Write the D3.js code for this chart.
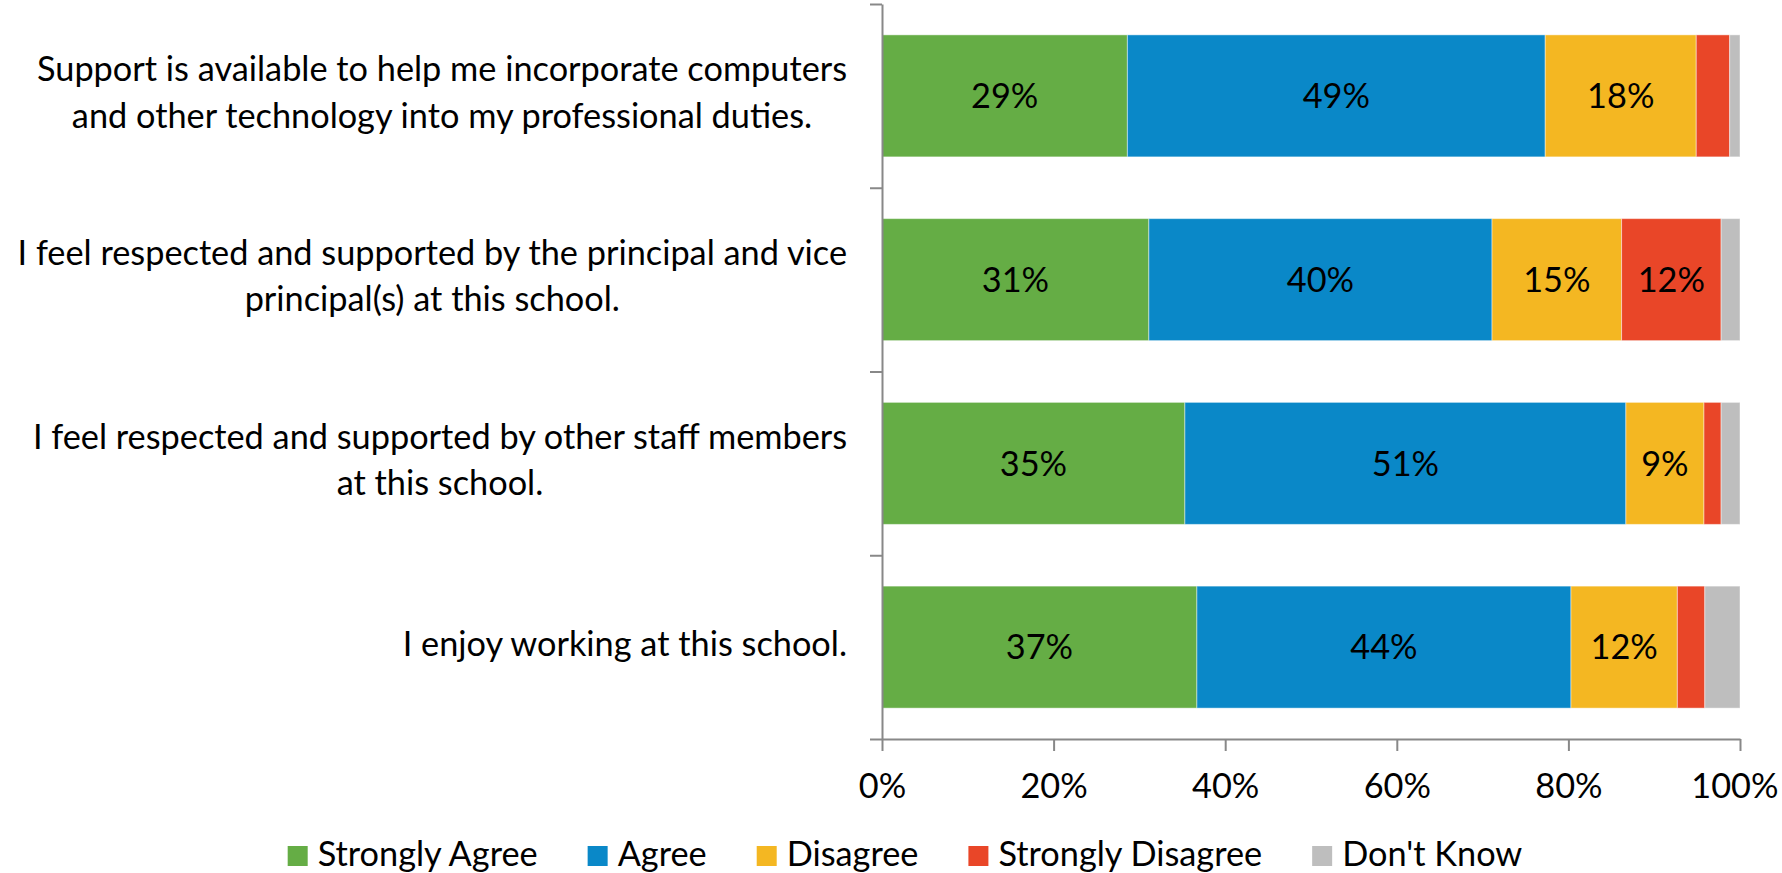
<!DOCTYPE html>
<html>
<head>
<meta charset="utf-8">
<script src="https://cdn.jsdelivr.net/npm/d3@7"></script>
<style>
  html, body { margin: 0; padding: 0; background: #ffffff; }
  svg { display: block; }
  text { font-family: Lato, "Open Sans", sans-serif; fill: #000; }
</style>
</head>
<body>
<svg id="chart" width="1782" height="873"></svg>
<script>
// Survey statements, one per bar (top to bottom), split into display lines
const categories = [
  ["Support is available to help me incorporate computers", "and other technology into my professional duties."],
  ["I feel respected and supported by the principal and vice", "principal(s) at this school."],
  ["I feel respected and supported by other staff members", "at this school."],
  ["I enjoy working at this school."]
];

const seriesNames = ["Strongly Agree", "Agree", "Disagree", "Strongly Disagree", "Don't Know"];
const seriesColors = ["#65AD45", "#0A88C8", "#F4B722", "#E94628", "#BEBEBE"];

// Percent of responses per statement
const stronglyAgree    = [28.6, 31.1, 35.3, 36.7];
const agree            = [48.7, 40.0, 51.4, 43.6];
const disagree         = [17.6, 15.1,  9.1, 12.4];
const stronglyDisagree = [ 3.9, 11.6,  2.0,  3.2];
const dontKnow         = [ 1.2,  2.2,  2.2,  4.1];

const xTickValues = [0, 20, 40, 60, 80, 100];

const rows = categories.map((c, i) => ({
  idx: i,
  "Strongly Agree": stronglyAgree[i],
  "Agree": agree[i],
  "Disagree": disagree[i],
  "Strongly Disagree": stronglyDisagree[i],
  "Don't Know": dontKnow[i]
}));

const W = 1782, H = 873;
const svg = d3.select("#chart");

// Pick a font size so the text runs about as wide as the original layout
const probe = svg.append("text").attr("font-size", 100).text("Strongly Agree");
const probeW = probe.node().getComputedTextLength();
probe.remove();
const fs = Math.min(38, 100 * 220 / probeW);

const plot = { left: 882, right: 1740, top: 4, bottom: 739 };

const x = d3.scaleLinear().domain([0, 100]).range([plot.left, plot.right]);
const y = d3.scaleBand()
  .domain(rows.map(r => r.idx))
  .range([plot.top, plot.bottom])
  .paddingInner(0.336)
  .paddingOuter(0.168);

const stack = d3.stack().keys(seriesNames);
const stacked = stack(rows);

const axisColor = "#888888";

// Bars
const layers = svg.append("g").selectAll("g")
  .data(stacked)
  .join("g")
  .attr("fill", (d, i) => seriesColors[i]);

layers.selectAll("rect")
  .data(d => d)
  .join("rect")
  .attr("x", d => x(d[0]))
  .attr("y", d => y(d.data.idx))
  .attr("width", d => x(d[1]) - x(d[0]))
  .attr("height", y.bandwidth())
  .attr("stroke", "rgba(255,255,255,0.45)")
  .attr("stroke-width", 1);

// Value labels inside segments
const labelG = svg.append("g");
stacked.forEach(layer => {
  layer.forEach(d => {
    const v = d[1] - d[0];
    if (v < 5) return;
    labelG.append("text")
      .attr("x", (x(d[0]) + x(d[1])) / 2)
      .attr("y", y(d.data.idx) + y.bandwidth() / 2)
      .attr("dy", "0.36em")
      .attr("text-anchor", "middle")
      .attr("font-size", fs)
      .text(Math.round(v) + "%");
  });
});

// Category axis: line with tick marks at band boundaries
const yEdge = d3.scaleLinear().domain([0, categories.length]).range([plot.top, plot.bottom]);
const yAxis = svg.append("g")
  .attr("transform", `translate(${plot.left},0)`)
  .call(d3.axisLeft(yEdge).ticks(categories.length).tickSize(12).tickSizeOuter(0).tickFormat(""));
yAxis.select(".domain").attr("stroke", axisColor).attr("stroke-width", 2);
yAxis.selectAll(".tick line").attr("stroke", axisColor).attr("stroke-width", 2);

// Percent axis
const xAxis = svg.append("g")
  .attr("transform", `translate(0,${plot.bottom})`)
  .call(d3.axisBottom(x).tickValues(xTickValues).tickSize(12).tickSizeOuter(0).tickFormat(d => d + "%"));
xAxis.select(".domain").attr("stroke", axisColor).attr("stroke-width", 2);
xAxis.selectAll(".tick line").attr("stroke", axisColor).attr("stroke-width", 2);
xAxis.selectAll(".tick text")
  .attr("y", 59).attr("dy", null)
  .attr("font-size", fs)
  .attr("font-family", "Lato, 'Open Sans', sans-serif")
  .attr("fill", "#000");
// keep the last label inside the page
xAxis.selectAll(".tick").each(function (d) {
  const t = d3.select(this).select("text");
  const half = t.node().getComputedTextLength() / 2;
  const overflow = x(d) + half - (W - 4);
  if (overflow > 0) t.attr("x", -overflow);
});

// Category labels: block right-aligned next to the axis, lines centred in the block
const catRight = 847;
const lineGap = 46.5;
const catG = svg.append("g");
categories.forEach((lines, i) => {
  const cy = y(i) + y.bandwidth() / 2;
  const g = catG.append("g");
  const texts = lines.map((ln, k) => g.append("text")
    .attr("font-size", fs)
    .attr("text-anchor", "middle")
    .attr("y", cy + (k - (lines.length - 1) / 2) * lineGap)
    .attr("dy", "0.25em")
    .text(ln));
  const blockW = d3.max(texts, t => t.node().getComputedTextLength());
  texts.forEach(t => t.attr("x", catRight - blockW / 2));
});

// Legend, centred under the chart
const legendY = 856;
const legend = svg.append("g");
let lx = 0;
seriesNames.forEach((name, i) => {
  const item = legend.append("g").attr("transform", `translate(${lx},0)`);
  item.append("rect")
    .attr("x", 0).attr("y", legendY - 10)
    .attr("width", 20).attr("height", 20)
    .attr("fill", seriesColors[i]);
  const t = item.append("text")
    .attr("x", 30).attr("y", legendY)
    .attr("dy", "0.3em")
    .attr("font-size", fs)
    .text(name);
  lx += 30 + t.node().getComputedTextLength() + 50;
});
const legendW = lx - 50;
legend.attr("transform", `translate(${905 - legendW / 2},0)`);
</script>
</body>
</html>
